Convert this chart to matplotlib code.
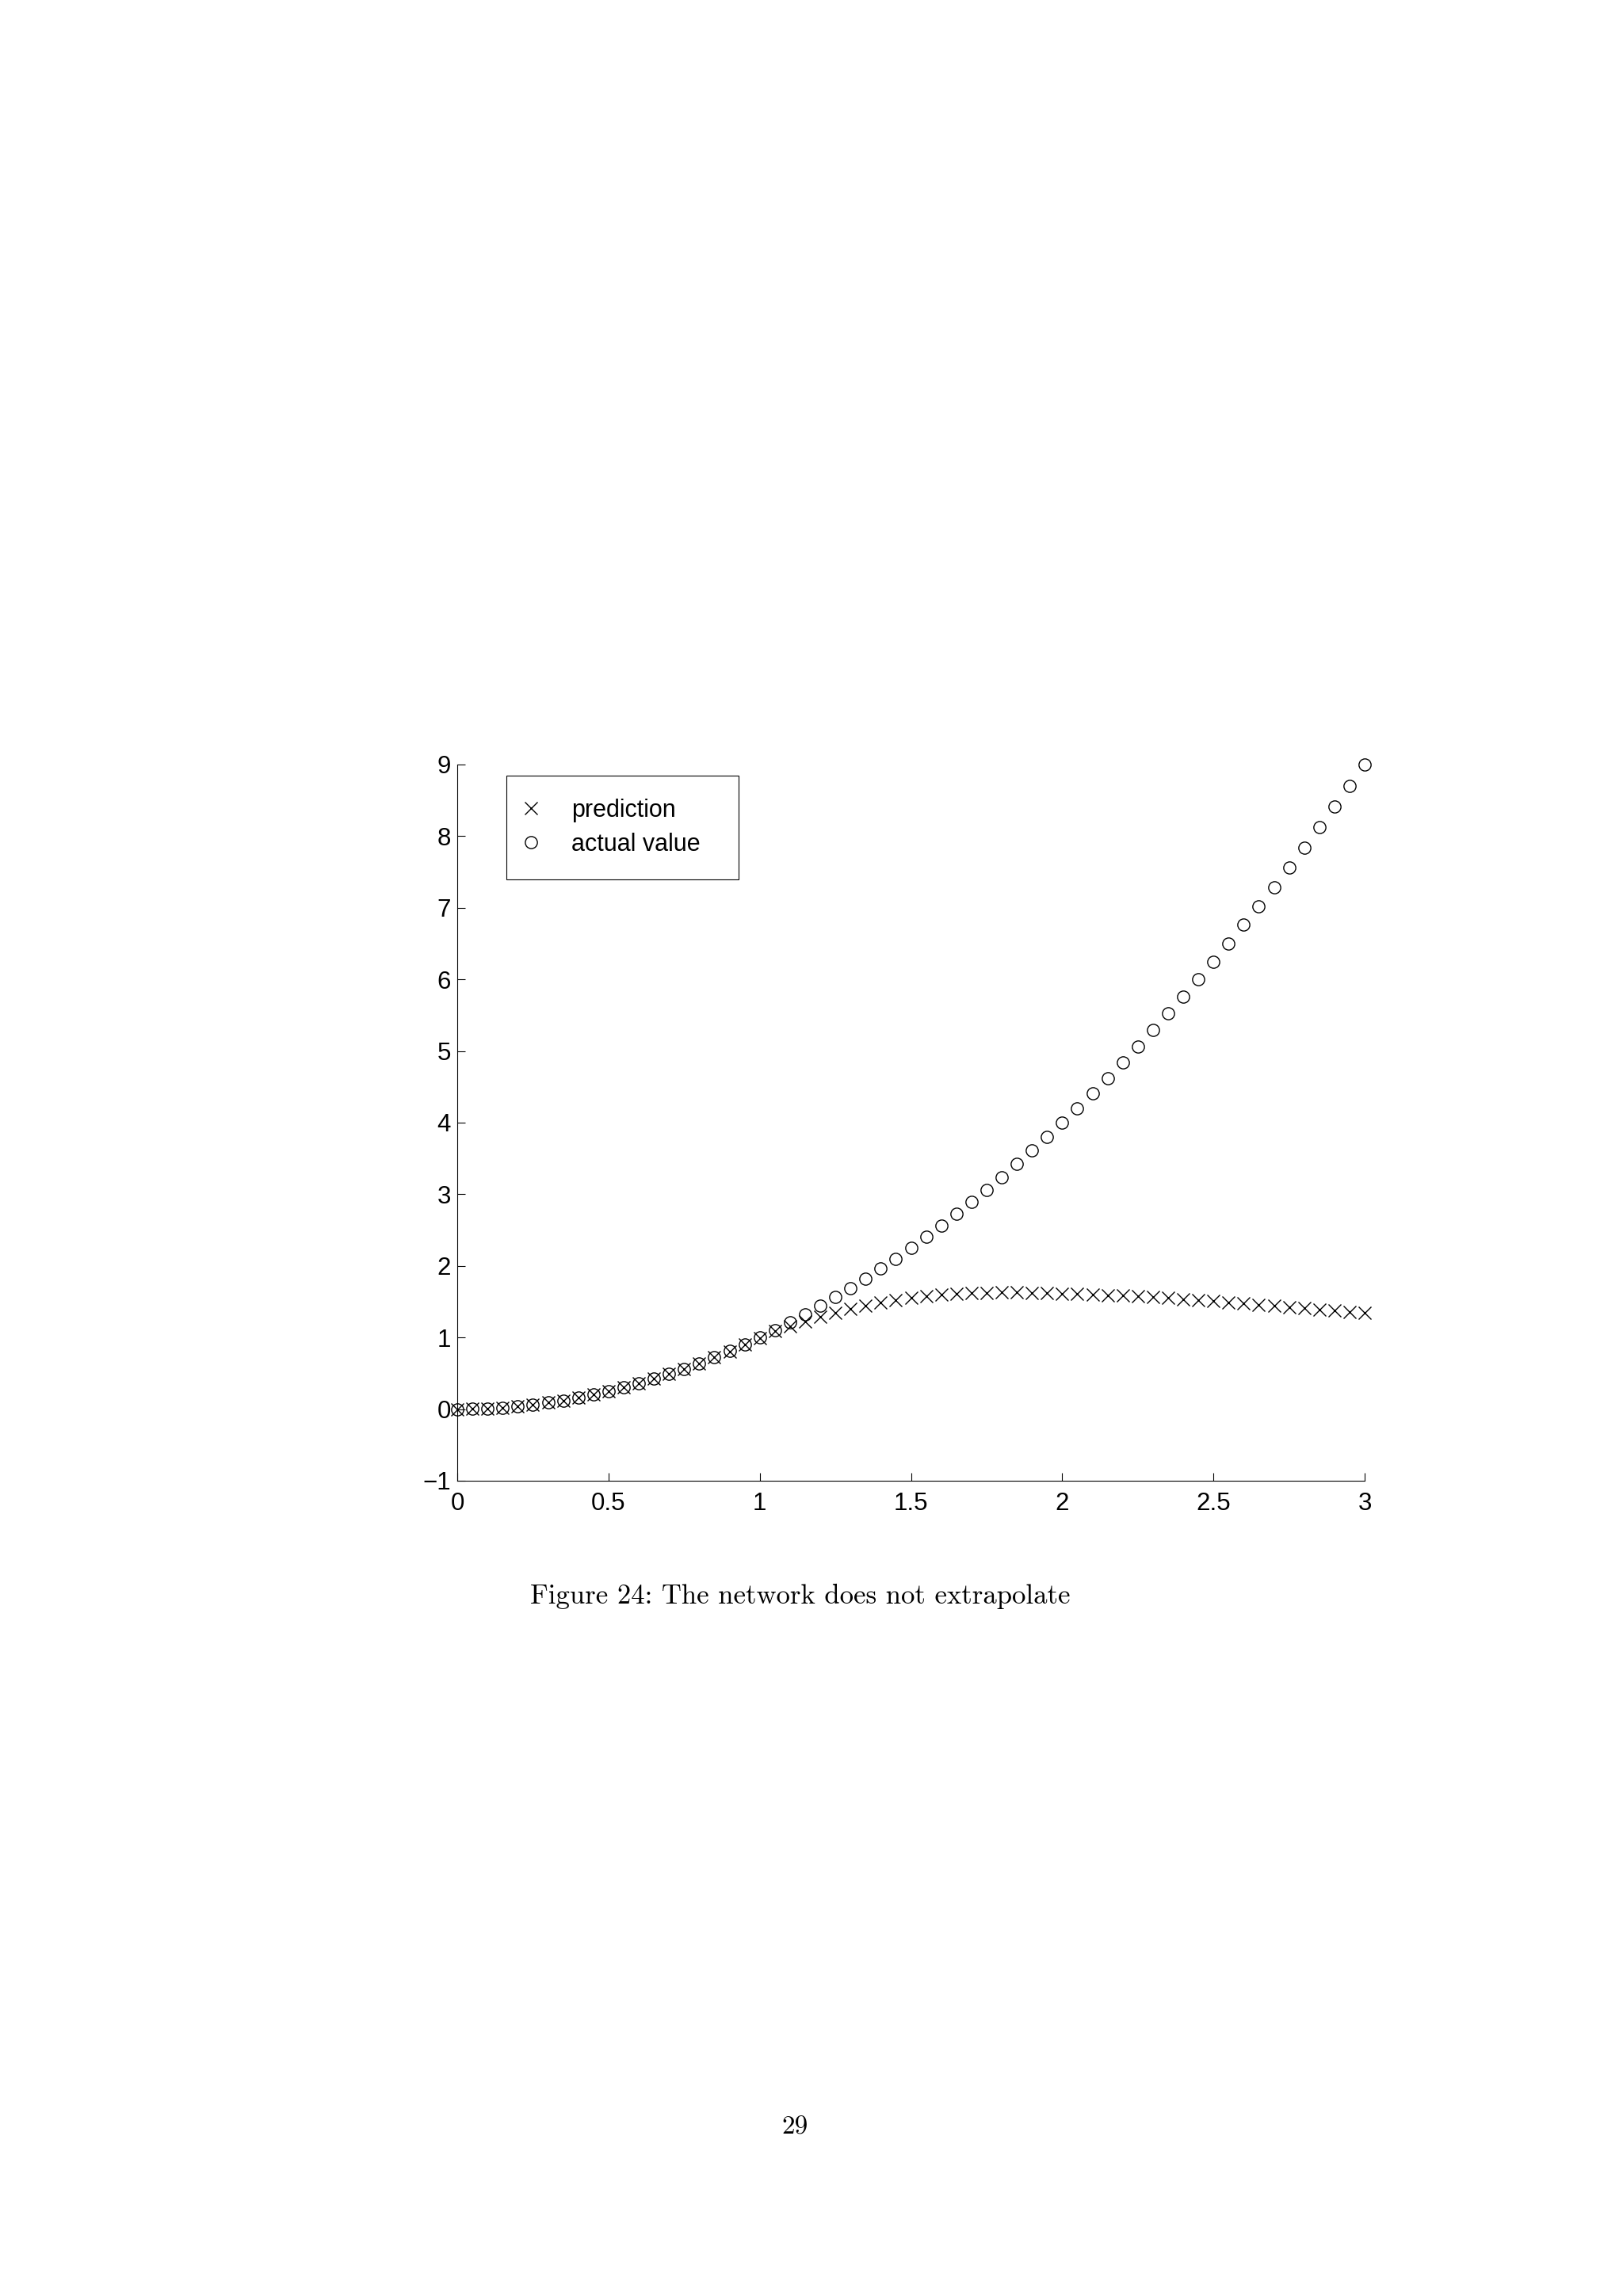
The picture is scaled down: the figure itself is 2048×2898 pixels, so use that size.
import matplotlib
matplotlib.use("Agg")
import matplotlib.pyplot as plt
from matplotlib.lines import Line2D

# data
x_vals = [0.00, 0.05, 0.10, 0.15, 0.20, 0.25, 0.30, 0.35, 0.40, 0.45,
          0.50, 0.55, 0.60, 0.65, 0.70, 0.75, 0.80, 0.85, 0.90, 0.95,
          1.00, 1.05, 1.10, 1.15, 1.20, 1.25, 1.30, 1.35, 1.40, 1.45,
          1.50, 1.55, 1.60, 1.65, 1.70, 1.75, 1.80, 1.85, 1.90, 1.95,
          2.00, 2.05, 2.10, 2.15, 2.20, 2.25, 2.30, 2.35, 2.40, 2.45,
          2.50, 2.55, 2.60, 2.65, 2.70, 2.75, 2.80, 2.85, 2.90, 2.95,
          3.00]

actual = [0.0000, 0.0025, 0.0100, 0.0225, 0.0400, 0.0625, 0.0900, 0.1225, 0.1600, 0.2025,
          0.2500, 0.3025, 0.3600, 0.4225, 0.4900, 0.5625, 0.6400, 0.7225, 0.8100, 0.9025,
          1.0000, 1.1025, 1.2100, 1.3225, 1.4400, 1.5625, 1.6900, 1.8225, 1.9600, 2.1025,
          2.2500, 2.4025, 2.5600, 2.7225, 2.8900, 3.0625, 3.2400, 3.4225, 3.6100, 3.8025,
          4.0000, 4.2025, 4.4100, 4.6225, 4.8400, 5.0625, 5.2900, 5.5225, 5.7600, 6.0025,
          6.2500, 6.5025, 6.7600, 7.0225, 7.2900, 7.5625, 7.8400, 8.1225, 8.4100, 8.7025,
          9.0000]

prediction = [0.000, 0.003, 0.010, 0.022, 0.040, 0.062, 0.090, 0.122, 0.160, 0.202,
              0.250, 0.302, 0.360, 0.422, 0.490, 0.562, 0.640, 0.722, 0.808, 0.900,
              0.995, 1.090, 1.160, 1.222, 1.287, 1.342, 1.402, 1.448, 1.489, 1.524,
              1.552, 1.577, 1.598, 1.613, 1.622, 1.626, 1.628, 1.628, 1.625, 1.620,
              1.615, 1.609, 1.602, 1.594, 1.585, 1.575, 1.563, 1.550, 1.537, 1.523,
              1.508, 1.493, 1.477, 1.461, 1.444, 1.427, 1.410, 1.393, 1.376, 1.359,
              1.342]

x_ticks = [0, 0.5, 1, 1.5, 2, 2.5, 3]
x_ticklabels = ["0", "0.5", "1", "1.5", "2", "2.5", "3"]
y_ticks = [-1, 0, 1, 2, 3, 4, 5, 6, 7, 8, 9]

caption = "Figure 24: The network does not extrapolate"
page_no = "29"

W, H = 2048, 2898
fig = plt.figure(figsize=(W / 100, H / 100), dpi=100)
fig.patch.set_facecolor("white")

# axes placed where the page has them
ax = fig.add_axes([577 / W, 1 - 1869 / H, (1722 - 577) / W, (1869 - 965) / H])

sans = ["Liberation Sans", "DejaVu Sans"]
ms = 11

ax.plot(x_vals, prediction, linestyle="none", marker="x", color="black",
        markersize=ms, markeredgewidth=1.0, clip_on=False, zorder=3)
ax.plot(x_vals, actual, linestyle="none", marker="o", markerfacecolor="none",
        markeredgecolor="black", markersize=ms, markeredgewidth=1.0,
        clip_on=False, zorder=3)

ax.set_xlim(0, 3)
ax.set_ylim(-1, 9)
ax.set_xticks(x_ticks)
ax.set_xticklabels(x_ticklabels)
ax.set_yticks(y_ticks)

for side in ["top", "right"]:
    ax.spines[side].set_visible(False)
for side in ["left", "bottom"]:
    ax.spines[side].set_linewidth(0.8)
    ax.spines[side].set_color("black")

ax.tick_params(axis="both", direction="in", length=7.5, width=0.8, color="black")
ax.tick_params(axis="x", pad=10)
ax.tick_params(axis="y", pad=6)
for lab in ax.get_xticklabels() + ax.get_yticklabels():
    lab.set_family(sans)
    lab.set_fontsize(22.5)

# legend (markers only, square frame)
handles = [
    Line2D([], [], linestyle="none", marker="x", color="black",
           markersize=ms, markeredgewidth=1.0),
    Line2D([], [], linestyle="none", marker="o", markerfacecolor="none",
           markeredgecolor="black", markersize=ms, markeredgewidth=1.0),
]
leg = fig.legend(handles, ["prediction", "actual value"],
                 loc="upper left",
                 bbox_to_anchor=(639 / W, 1 - 1108 / H, (932 - 639) / W, (1108 - 979) / H),
                 bbox_transform=fig.transFigure, mode="expand",
                 borderaxespad=0, borderpad=0.95, handlelength=0.1,
                 handletextpad=1.64, labelspacing=0.42,
                 fancybox=False, framealpha=1, edgecolor="black",
                 prop={"family": sans, "size": 22})
leg.get_frame().set_linewidth(0.8)

# caption and page number in a TeX-like serif
serif = ["cmr10", "DejaVu Serif"]
fig.text(1010 / W, 1 - 2024 / H, caption, ha="center", va="baseline",
         family=serif, fontsize=25)
fig.text(1003 / W, 1 - 2694 / H, page_no, ha="center", va="baseline",
         family=serif, fontsize=24)

fig.savefig("out.png", dpi=100, facecolor="white")
